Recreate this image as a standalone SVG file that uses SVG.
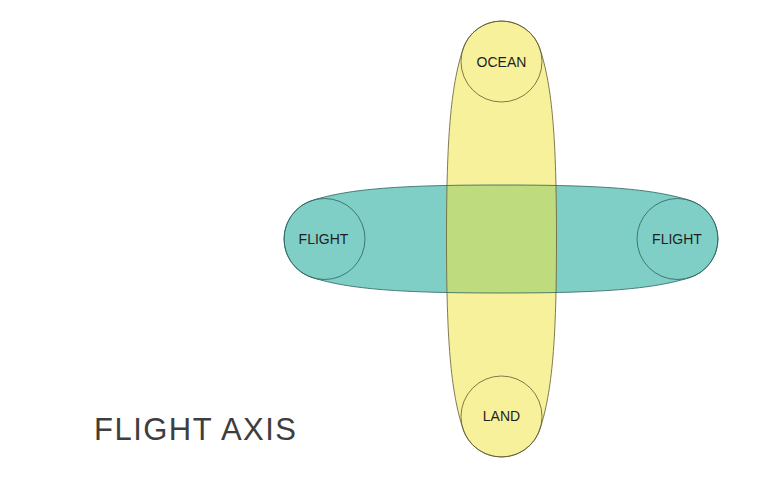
<svg xmlns="http://www.w3.org/2000/svg" width="759" height="477" viewBox="0 0 759 477">
  <style>
    .yfill { fill: #f7f19b; }
    .tfill { fill: #80cfc7; }
    .gfill { fill: #bedb7e; }
    .ystroke { fill: none; stroke: #5e5c34; stroke-width: 0.8; }
    .tstroke { fill: none; stroke: #2b625d; stroke-width: 0.8; }
    .lbl { font-family: "Liberation Sans", Arial, sans-serif; font-size: 14px; fill: #1e1e1e; text-anchor: middle; }
    .title { font-family: "Liberation Sans", Arial, sans-serif; font-size: 31px; fill: #3e3e3e; }
  </style>
  <defs>
    <path id="hpath" d="M 312,277.5 A 40.5 40.5 0 0 1 312,200.5 C 350,188.5 402,185 501,185 C 600,185 652,188.5 690,200.5 A 40.5 40.5 0 0 1 690,277.5 C 652,289.5 600,293 501,293 C 402,293 350,289.5 312,277.5 Z"/>
    <path id="vpath" d="M 463,49 A 40.5 40.5 0 0 1 540,49 C 552.4,87 556.5,139 556.5,239 C 556.5,339 552.4,391 540,429 A 40.5 40.5 0 0 1 463,429 C 450.6,391 446.5,339 446.5,239 C 446.5,139 450.6,87 463,49 Z"/>
    <clipPath id="hclip"><use href="#hpath"/></clipPath>
  </defs>
  <rect width="759" height="477" fill="#ffffff"/>
  <g id="flight-axis-shape">
    <use href="#hpath" class="tfill"/>
  </g>
  <g id="ocean-land-axis-shape">
    <use href="#vpath" class="yfill"/>
  </g>
  <g id="overlap">
    <use href="#vpath" class="gfill" clip-path="url(#hclip)"/>
    <use href="#hpath" class="tstroke"/>
    <use href="#vpath" class="ystroke"/>
  </g>
  <g id="node-ocean">
    <circle cx="501.5" cy="61.5" r="40.5" class="ystroke"/>
    <text x="501.5" y="66.5" class="lbl">OCEAN</text>
  </g>
  <g id="node-land">
    <circle cx="501.5" cy="416.5" r="40.5" class="ystroke"/>
    <text x="501.5" y="421" class="lbl">LAND</text>
  </g>
  <g id="node-flight-left">
    <circle cx="324.5" cy="239" r="40.5" class="tstroke"/>
    <text x="323.5" y="244" class="lbl" font-size="13.3">FLIGHT</text>
  </g>
  <g id="node-flight-right">
    <circle cx="677.5" cy="239" r="40.5" class="tstroke"/>
    <text x="677" y="244" class="lbl" font-size="13.3">FLIGHT</text>
  </g>
  <g id="title">
    <text x="94" y="439.5" class="title" textLength="202" lengthAdjust="spacing">FLIGHT AXIS</text>
  </g>
</svg>
